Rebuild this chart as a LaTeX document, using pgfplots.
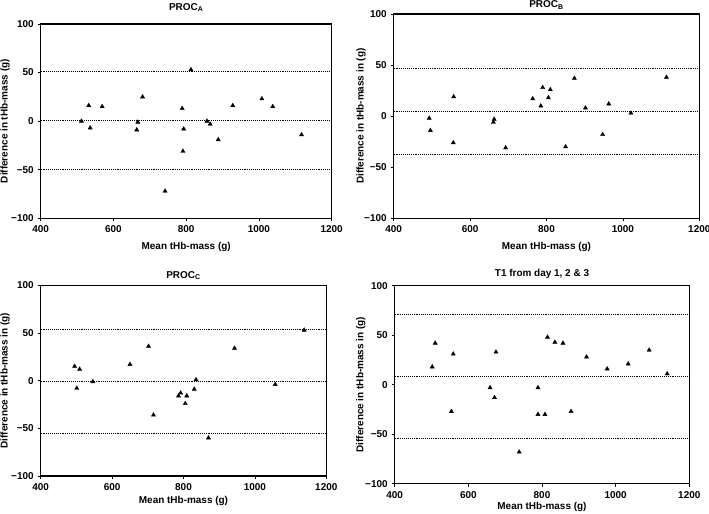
\documentclass[border=0pt]{standalone}
\usepackage{fontspec}
\setmainfont{Liberation Sans}
\usepackage{pgfplots}
\pgfplotsset{compat=1.18}
\pgfplotsset{
  ba/.style 2 args={
    scale only axis,
    xmin=400, xmax=1200, ymin=-100, ymax=100,
    xtick={400,600,800,1000,1200},
    xticklabels={400,600,800,1000,1200},
    ytick={-100,-50,0,50,100},
    yticklabels={−100,−50,0,50,100},
    tick align=outside,
    tick pos=left,
    major tick length=3bp,
    axis line style={black, line width=1.1bp},
    every tick/.style={black, line width=0.8bp},
    tick label style={font=\fontsize{10}{12}\selectfont\bfseries},
    title style={font=\fontsize{10}{12}\selectfont\bfseries, anchor=center},
    xlabel={Mean tHb-mass (g)},
    every axis x label/.style={at={([yshift=-#2]axis description cs:0.5,0)}, anchor=center, font=\fontsize{10}{12}\selectfont\bfseries},
    every axis y label/.style={at={([xshift=-#1]axis description cs:0,0.5)}, anchor=center, rotate=90, font=\fontsize{10}{12}\selectfont\bfseries},
    xticklabel style={yshift=-1bp},
    yticklabel style={xshift=-0.5bp},
    clip=false,
  },
  pts/.style={only marks, mark=triangle*, mark size=2.4bp, black},
  lim/.style={black, densely dotted, line width=0.9bp, no marks},
}
\begin{document}
\begin{tikzpicture}
\useasboundingbox (0bp,0bp) rectangle (709bp,514bp);
% Panel A
\begin{axis}[ba={35.7bp}{28.4bp}, at={(40.7bp,295.7bp)}, anchor=south west, width=291bp, height=194.3bp,
  title={PROC\textsubscript{A}}, title style={yshift=10.7bp},
  ylabel={Difference in tHb-mass (g)}]
\addplot[lim] coordinates {(400,51) (1200,51)};
\addplot[lim] coordinates {(400,0.5) (1200,0.5)};
\addplot[lim] coordinates {(400,-50) (1200,-50)};
\addplot[pts] coordinates {
(512,0) (532,16) (536,-7) (569,15) (667,-1) (664,-9) (680,25) (742,-72)
(789,13) (793,-8) (791,-31) (813,53) (857,0) (866,-3) (888,-19) (928,16)
(1008,23) (1038,15) (1117,-14)};
\end{axis}
% Panel B
\begin{axis}[ba={32.7bp}{28.4bp}, at={(393.7bp,295.7bp)}, anchor=south west, width=305.6bp, height=204.3bp,
  title={PROC\textsubscript{B}}, title style={yshift=3bp},
  ylabel={Difference in tHb-mass in (g)}]
\addplot[lim] coordinates {(400,47) (1200,47)};
\addplot[lim] coordinates {(400,4.7) (1200,4.7)};
\addplot[lim] coordinates {(400,-37.5) (1200,-37.5)};
\addplot[pts] coordinates {
(493,-2) (496,-14) (557,19) (556,-26) (663,-3) (661,-6) (693,-31) (764,17)
(790,28) (785,10) (805,18) (810,26) (850,-30) (873,37) (902,8) (947,-18)
(963,12) (1021,3) (1114,38)};
\end{axis}
% Panel C
\begin{axis}[ba={35.7bp}{24.7bp}, at={(40.7bp,38bp)}, anchor=south west, width=285.6bp, height=190.7bp,
  title={PROC\textsubscript{C}}, title style={yshift=3.6bp},
  ylabel={Difference in tHb-mass in (g)}]
\addplot[lim] coordinates {(400,53.5) (1200,53.5)};
\addplot[lim] coordinates {(400,-1) (1200,-1)};
\addplot[lim] coordinates {(400,-55.3) (1200,-55.3)};
\addplot[pts] coordinates {
(495,15) (501,-8) (509,12) (546,-1) (650,17) (702,36) (716,-36) (786,-16)
(792,-13) (805,-24) (809,-16) (830,-9) (835,1) (870,-60) (943,34) (1057,-4)
(1138,53)};
\end{axis}
% Panel D
\begin{axis}[ba={34bp}{23bp}, at={(394.7bp,30.3bp)}, anchor=south west, width=294.6bp, height=198bp,
  title={T1 from day 1, 2 \& 3}, title style={yshift=5.4bp},
  ylabel={Difference in tHb-mass in (g)}]
\addplot[lim] coordinates {(400,71) (1200,71)};
\addplot[lim] coordinates {(400,8.4) (1200,8.4)};
\addplot[lim] coordinates {(400,-54.2) (1200,-54.2)};
\addplot[pts] coordinates {
(502,18) (510,42) (554,-27) (559,31) (659,-3) (671,-13) (675,33) (738,-68)
(789,-3) (789,-30) (808,-30) (815,48) (835,43) (857,42) (879,-27) (921,28)
(977,16) (1034,21) (1091,35) (1140,11)};
\end{axis}
\end{tikzpicture}
\end{document}
